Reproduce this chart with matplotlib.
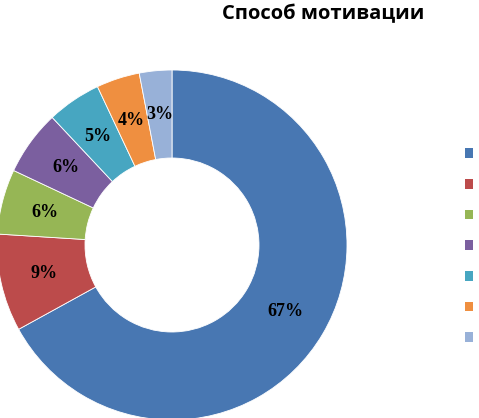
import matplotlib.pyplot as plt
from matplotlib.patches import Patch

# data
shares = [67, 9, 6, 6, 5, 4, 3]
labels = ["67%", "9%", "6%", "6%", "5%", "4%", "3%"]
colors = ["#4877B2", "#BC4B4B", "#96B655", "#7B5F9F", "#47A6C1", "#EF8F40", "#98B1D8"]
title = "Способ мотивации"

W, H = 479, 418
fig = plt.figure(figsize=(W / 100, H / 100), dpi=100)
ax = fig.add_axes([0, 0, 1, 1])
ax.set_xlim(0, W)
ax.set_ylim(0, H)
ax.set_aspect("equal")
ax.axis("off")

wedges, texts = ax.pie(shares, labels=labels, colors=colors, startangle=90,
                       counterclock=False, center=(172, H - 245), radius=175,
                       labeldistance=0.75,
                       wedgeprops=dict(width=88, edgecolor="white", linewidth=0.6),
                       textprops=dict(family="Liberation Serif", weight="bold",
                                      fontsize=13, color="black",
                                      ha="center", va="center"))
ax.set_xlim(0, W)
ax.set_ylim(0, H)

fig.text(323 / W, 1 - 14 / H, title, ha="center", va="center",
         fontsize=14.5, weight="bold", family="Open Sans")

handles = [Patch(facecolor=c) for c in colors]
fig.legend(handles, [""] * len(colors), loc="upper left",
           bbox_to_anchor=(458 / W, 1 - 140 / H), frameon=False,
           handlelength=0.55, handleheight=0.7, fontsize=10,
           labelspacing=1.2, handletextpad=0.2, borderpad=0)

fig.savefig("out.png", dpi=100)
